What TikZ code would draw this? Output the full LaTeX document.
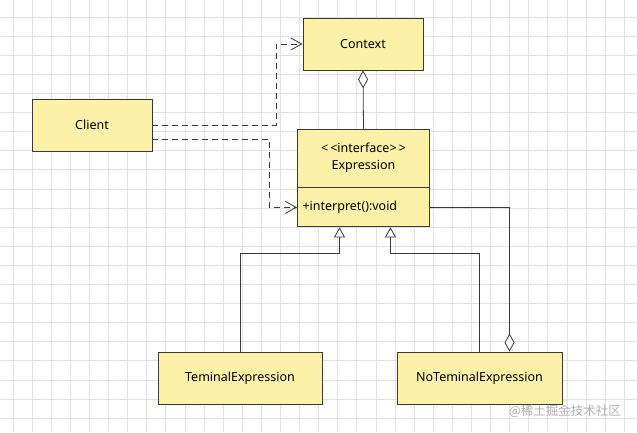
\documentclass[tikz,border=0pt]{standalone}
\usepackage{fontspec}
\setmainfont{Noto Sans}
\newfontfamily\cjk{Noto Sans CJK SC}
\usepackage{xcolor}
\usetikzlibrary{arrows.meta,positioning}

\definecolor{clsfill}{HTML}{FDF1A7}
\definecolor{clsline}{HTML}{3A3A3A}
\definecolor{gridcol}{HTML}{E2E2E2}

\begin{document}
\begin{tikzpicture}[
  x=1pt,y=-1pt,
  cls/.style={draw=clsline, fill=clsfill, line width=0.9pt, minimum width=120pt,
    minimum height=52pt, inner sep=0pt, font=\fontsize{12.5}{16}\selectfont},
  member/.style={cls, minimum height=39pt, text width=122pt, inner sep=5pt, align=left},
  dep/.style={draw=clsline, line width=0.8pt, dash pattern=on 6pt off 4pt,
    -{Straight Barb[length=11pt,width=12pt,line width=0.8pt]}},
  agg/.style={draw=clsline, line width=0.8pt, -{Diamond[open,length=18pt,width=10pt,fill=white]}},
  gen/.style={draw=clsline, line width=0.8pt, -{Triangle[open,length=10pt,width=11pt,fill=white]}},
  gridline/.style={draw=gridcol, line width=0.8pt}
]
\useasboundingbox (0,0) rectangle (637,432);
\fill[white] (0,0) rectangle (637,432);
\foreach \gx in {13,32.1,...,637} \draw[gridline] (\gx,0) -- (\gx,432);
\foreach \gy in {17,36.1,...,432} \draw[gridline] (0,\gy) -- (637,\gy);

\node[cls] (context) at (363,44) {Context};
\node[cls] (client) at (92,125) {Client};
\node[cls, minimum width=132pt, minimum height=58pt, align=center] (expr) at (363.5,158)
  {\textless\,\textless interface\textgreater\,\textgreater\\[1pt]Expression};
\node[member, below=0pt of expr] (method) {+interpret():void};
\node[cls, minimum width=164pt] (teminal) at (240,378) {TeminalExpression};
\node[cls, minimum width=165pt] (noteminal) at (479.5,378) {NoTeminalExpression};

\node[text=black!30, font=\cjk\fontsize{12.5}{15}\selectfont] (mark) at (565,411) {@稀土掘金技术社区};

\draw[dep] (client.east) -- ++(123.5,0) |- (context.west);
\draw[dep] ([yshift=-14pt]client.east) -- ++(117,0) |- (method.west);
\draw[agg] (expr.north) -- (context.south);
\draw[agg] (method.east) -| ([xshift=30pt]noteminal.north);
\draw[gen] (teminal.north) -- ++(0,-98) -| ([xshift=-24pt]method.south);
\draw[gen] (noteminal.north) -- ++(0,-98) -| ([xshift=27pt]method.south);
\end{tikzpicture}
\end{document}
